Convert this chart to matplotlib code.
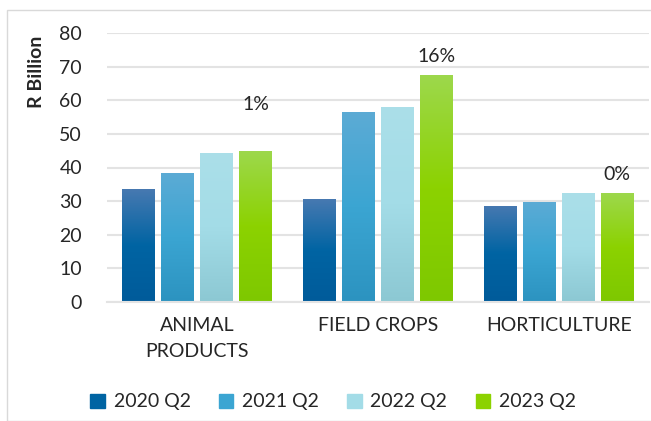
import matplotlib
matplotlib.use("Agg")
import matplotlib.pyplot as plt
import numpy as np
from matplotlib.colors import LinearSegmentedColormap
from matplotlib.patches import Rectangle

categories = ["ANIMAL\nPRODUCTS", "FIELD CROPS", "HORTICULTURE"]
series = ["2020 Q2", "2021 Q2", "2022 Q2", "2023 Q2"]
v2020 = [33.6, 30.6, 28.6]
v2021 = [38.4, 56.5, 29.8]
v2022 = [44.3, 58.0, 32.4]
v2023 = [44.9, 67.5, 32.4]
values = [v2020, v2021, v2022, v2023]
pct_labels = ["1%", "16%", "0%"]
pct_y = [58.6, 72.9, 37.8]

# gradient stops (top, middle, bottom)
grads = [
    ["#4779b1", "#0064a3", "#005b9a"],
    ["#5cabd5", "#3ba5d2", "#2c93c0"],
    ["#abdfe9", "#a3dce7", "#8cc8d3"],
    ["#9dd84c", "#8cd200", "#7ec800"],
]
solid = [g[1] for g in grads]

plt.rcParams['font.family'] = ['Lato', 'DejaVu Sans']
txt = "#262626"
fs = 14

fig = plt.figure(figsize=(6.51, 4.21), dpi=100)
fig.patches.append(Rectangle((7/651, 0), 1, 1 - 10/421, transform=fig.transFigure,
                             fill=False, edgecolor="#d9d9d9", linewidth=1))
ax = fig.add_axes([107/651, 1 - 302/421, 542/651, 269/421])

n = len(series)
bw = 33/181
step = 39/181
x = np.arange(len(categories))
for i, (vals, g) in enumerate(zip(values, grads)):
    cmap = LinearSegmentedColormap.from_list("g%d" % i, [g[2], g[1], g[0]])
    xs = x + (i - (n - 1) / 2) * step
    bars = ax.bar(xs, vals, width=bw, color=solid[i], label=series[i], zorder=2)
    for b in bars:
        b.set_facecolor("none")
        x0 = b.get_x()
        w, h = b.get_width(), b.get_height()
        grad = np.linspace(0, 1, 256).reshape(-1, 1)
        im = ax.imshow(grad, cmap=cmap, origin="lower", aspect="auto",
                       extent=[x0, x0 + w, 0, h], zorder=2, interpolation="bilinear")
        im.set_clip_path(b)

for xi, lab, yy in zip(x, pct_labels, pct_y):
    ax.text(xi + 1.5 * step, yy, lab, ha="center", va="center", fontsize=fs, color=txt)

ax.set_xlim(-0.5, 2.5)
ax.set_ylim(0, 80)
ax.set_yticks(np.arange(0, 81, 10))
ax.set_xticks(x)
ax.set_xticklabels(categories, fontsize=fs, color=txt, linespacing=1.6)
ax.tick_params(axis="y", length=0, pad=18, labelsize=fs, labelcolor=txt)
ax.tick_params(axis="x", length=0, pad=11)
ax.grid(axis="y", color="#e3e3e3", linewidth=1.5, zorder=0)
ax.set_axisbelow(True)
for s in ["top", "right", "left"]:
    ax.spines[s].set_visible(False)
ax.spines["bottom"].set_color("#e3e3e3")
ax.spines["bottom"].set_linewidth(1.5)

fig.text(37/651, 1 - 72/421, "R Billion", rotation=90, ha="center", va="center",
         fontsize=fs, fontweight="bold", color=txt)

handles = [Rectangle((0, 0), 1, 1, color=c) for c in solid]
fig.legend(handles, series, loc="center", bbox_to_anchor=(333/651, 1 - 402/421),
           ncol=4, frameon=False, fontsize=fs, handlelength=0.75, handleheight=0.75,
           handletextpad=0.45, columnspacing=1.45, labelcolor=txt)

fig.savefig("out.png", dpi=100)
